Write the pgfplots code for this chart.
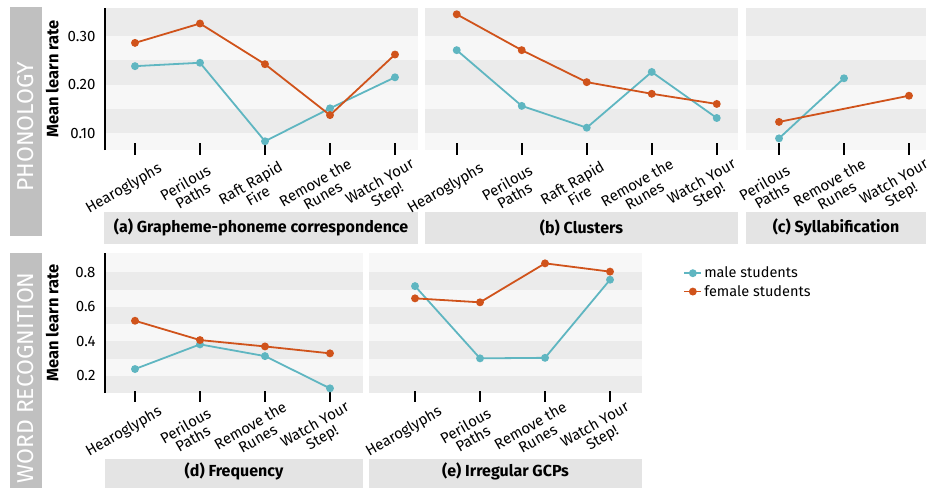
\documentclass[border=0pt]{standalone}
\usepackage{fontspec}
\setmainfont{Fira Sans}
\IfFontExistsTF{FiraSans-Light.otf}{\newfontfamily\lightfont{FiraSans-Light.otf}}{\newfontfamily\lightfont{Fira Sans}}
\usepackage{pgfplots}
\pgfplotsset{compat=1.18}
\definecolor{male}{HTML}{5FB6C1}
\definecolor{female}{HTML}{D0531B}
\definecolor{stripeD}{HTML}{EBEBEB}
\definecolor{stripeL}{HTML}{F7F7F7}
\definecolor{titlebox}{HTML}{E4E4E4}
\definecolor{sidebox}{HTML}{C0C0C0}
\pgfplotsset{
  panel/.style={
    scale only axis, anchor=south west, clip=false,
    axis x line=bottom, axis y line=left,
    axis line style={-},
    x axis line style={draw=none},
    y axis line style={draw=none},
    ytick style={draw=none},
    xtick style={draw=none},
    major tick length=12pt, tick align=center,
    /pgf/number format/assume math mode=true,
    ticklabel style={font=\fontsize{15}{16}\selectfont},
    xticklabel style={font=\fontsize{15}{15}\selectfont, xshift=-11pt, yshift=-33pt, rotate=30, anchor=center, align=center},
    yticklabel style={anchor=east},
    every axis plot/.append style={line width=1.8pt, mark=*, mark size=3pt},
  },
  toprow/.style={panel, height=142pt, ymin=0.065, ymax=0.358, ytick={0.1,0.2,0.3}, yticklabels={0.10,0.20,0.30}},
  botrow/.style={panel, height=140pt, ymin=0.10, ymax=0.912, ytick={0.2,0.4,0.6,0.8}, yticklabels={0.2,0.4,0.6,0.8}},
  leftpanel/.style={
    ylabel={Mean learn rate}, ylabel style={font=\fontsize{16.5}{18}\selectfont\bfseries}},
  innerpanel/.style={yticklabels={}},
}
\newcommand{\band}[2]{\fill[stripeD] ({rel axis cs:0,0}|-{axis cs:0,#1}) rectangle ({rel axis cs:1,0}|-{axis cs:0,#2});}
\newcommand{\topstripes}{%
  \fill[stripeL] (rel axis cs:0,0) rectangle (rel axis cs:1,1);
  \band{0.10}{0.15}\band{0.20}{0.25}\band{0.30}{0.358}}
\newcommand{\botstripes}{%
  \fill[stripeL] (rel axis cs:0,0) rectangle (rel axis cs:1,1);
  \band{0.1}{0.2}\band{0.3}{0.4}\band{0.5}{0.6}\band{0.7}{0.8}}
\newcommand{\yline}{\draw[black, line width=2pt] (rel axis cs:0,0) -- (rel axis cs:0,1);}
% #1 list of x positions, #2 upper y, #3 lower y (data units)
\newcommand{\xticks}[3]{\pgfplotsinvokeforeach{#1}{\draw[black, line width=1.6pt] (axis cs:##1,#2) -- (axis cs:##1,#3);}}
\begin{document}
\begin{tikzpicture}
\useasboundingbox (0pt,0pt) rectangle (931pt,488pt);
% side labels
\fill[sidebox] (10pt,252pt) rectangle (42pt,481pt);
\node[rotate=90, text=white, font=\fontsize{23}{24}\selectfont\lightfont] at (26pt,361pt) {PHONOLOGY};
\fill[sidebox] (10pt,0pt) rectangle (42pt,235pt);
\node[rotate=90, text=white, font=\fontsize{23}{24}\selectfont\lightfont] at (26pt,110pt) {WORD RECOGNITION};
% title boxes
\fill[titlebox] (104pt,244pt) rectangle (418pt,276pt);
\node[font=\fontsize{16}{17}\selectfont\bfseries] at (261pt,260.5pt) {(a) Grapheme-phoneme correspondence};
\fill[titlebox] (425pt,244pt) rectangle (738pt,276pt);
\node[font=\fontsize{16}{17}\selectfont\bfseries] at (581.5pt,260.5pt) {(b) Clusters};
\fill[titlebox] (746pt,244pt) rectangle (926pt,276pt);
\node[font=\fontsize{16}{17}\selectfont\bfseries] at (836pt,260.5pt) {(c) Syllabification};
\fill[titlebox] (105pt,0pt) rectangle (363pt,29pt);
\node[font=\fontsize{16}{17}\selectfont\bfseries] at (234pt,17pt) {(d) Frequency};
\fill[titlebox] (369pt,0pt) rectangle (642pt,29pt);
\node[font=\fontsize{16}{17}\selectfont\bfseries] at (505.5pt,17pt) {(e) Irregular GCPs};

% (a)
\begin{axis}[toprow, leftpanel, at={(105pt,338pt)}, width=313pt, xmin=-0.4615, xmax=4.354,
  xtick={0,1,2,3,4}, xticklabels={Hearoglyphs,{Perilous\\Paths},{Raft Rapid\\Fire},{Remove the\\Runes},{Watch Your\\Step!}},
  ylabel style={at={(axis description cs:-0.137,0.5)}}]
\topstripes\yline\xticks{0,...,4}{0.0794}{0.0547}
\addplot[male] coordinates {(0,0.238) (1,0.245) (2,0.083) (3,0.151) (4,0.215)};
\addplot[female] coordinates {(0,0.286) (1,0.326) (2,0.242) (3,0.137) (4,0.262)};
\end{axis}
% (b)
\begin{axis}[toprow, innerpanel, at={(425pt,338pt)}, width=313pt, xmin=-0.488, xmax=4.327,
  xtick={0,1,2,3,4}, xticklabels={Hearoglyphs,{Perilous\\Paths},{Raft Rapid\\Fire},{Remove the\\Runes},{Watch Your\\Step!}}]
\topstripes\xticks{0,...,4}{0.0794}{0.0547}
\addplot[male] coordinates {(0,0.271) (1,0.156) (2,0.111) (3,0.226) (4,0.131)};
\addplot[female] coordinates {(0,0.345) (1,0.271) (2,0.205) (3,0.181) (4,0.160)};
\end{axis}
% (c)
\begin{axis}[toprow, innerpanel, at={(746pt,338pt)}, width=180pt, xmin=-0.508, xmax=2.262,
  xtick={0,1,2}, xticklabels={{Perilous\\Paths},{Remove the\\Runes},{Watch Your\\Step!}}]
\topstripes\xticks{0,1,2}{0.0794}{0.0547}
\addplot[male] coordinates {(0,0.089) (1,0.213)};
\addplot[female] coordinates {(0,0.123) (2,0.177)};
\end{axis}
% (d)
\begin{axis}[botrow, leftpanel, at={(105pt,95pt)}, width=258pt, xmin=-0.4615, xmax=3.508,
  xtick={0,1,2,3}, xticklabels={Hearoglyphs,{Perilous\\Paths},{Remove the\\Runes},{Watch Your\\Step!}},
  ylabel style={at={(axis description cs:-0.166,0.5)}}]
\botstripes\yline\xticks{0,...,3}{0.11}{0.048}
\addplot[male] coordinates {(0,0.239) (1,0.382) (2,0.314) (3,0.127)};
\addplot[female] coordinates {(0,0.519) (1,0.407) (2,0.370) (3,0.330)};
\end{axis}
% (e)
\begin{axis}[botrow, innerpanel, at={(369pt,95pt)}, width=273pt, xmin=-0.708, xmax=3.492,
  xtick={0,1,2,3}, xticklabels={Hearoglyphs,{Perilous\\Paths},{Remove the\\Runes},{Watch Your\\Step!}},
  legend style={at={(axis description cs:1.14,0.93)}, anchor=north west, draw=none, fill=none,
    font=\fontsize{14.5}{16}\selectfont, cells={anchor=west}, row sep=2pt}]
\botstripes\xticks{0,...,3}{0.11}{0.048}
\addplot[male] coordinates {(0,0.720) (1,0.301) (2,0.304) (3,0.757)};
\addlegendentry{male students}
\addplot[female] coordinates {(0,0.649) (1,0.626) (2,0.852) (3,0.804)};
\addlegendentry{female students}
\end{axis}
\end{tikzpicture}
\end{document}
